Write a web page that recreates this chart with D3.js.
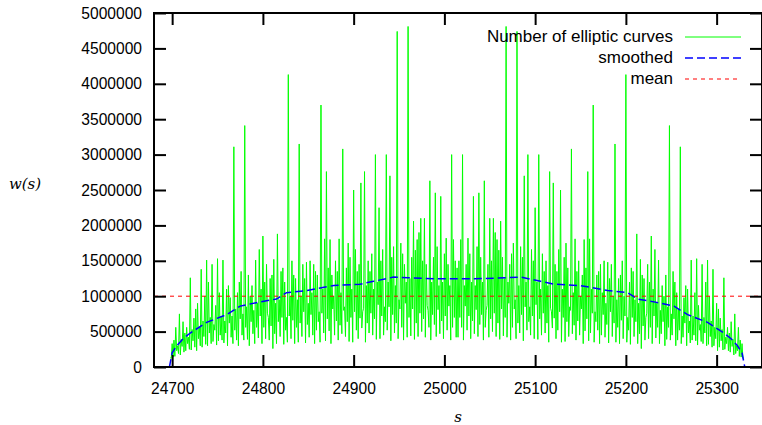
<!DOCTYPE html>
<html lang="en">

<head>
    <meta charset="UTF-8">
    <title>w(s)</title>
    <script src="https://d3js.org/d3.v7.min.js"></script>
    <style>
        body {
            margin: 0;
            background: #fff;
            overflow: hidden;
        }

        svg {
            display: block;
        }

        text {
            font-family: "Liberation Sans", Arial, sans-serif;
            fill: #000;
        }

        .math {
            font-family: "DejaVu Serif", serif;
            font-style: italic;
        }
    </style>
</head>

<body>
    <div id="chart"></div>
    <script>
        const width = 762, height = 425;

        // w(s) is symmetric about s = 25014, so only s = 24698 .. 25014 is listed (in thousands)
        const firstS = 24698;
        const halfCounts = [
            130, 120, 330, 140, 380, 150, 560, 230, 300, 190,
            750, 170, 390, 290, 640, 210, 480, 230, 560, 330,
            420, 250, 1260, 240, 530, 370, 690, 280, 820, 230,
            900, 400, 560, 300, 1380, 280, 650, 430, 1000, 320,
            1510, 300, 1200, 480, 700, 330, 1450, 360, 600, 520,
            870, 310, 1530, 370, 1050, 450, 720, 380, 1510, 340,
            650, 480, 1100, 300, 1150, 620, 980, 420, 720, 330,
            3110, 520, 820, 380, 1050, 300, 1200, 680, 1350, 450,
            750, 380, 3410, 560, 850, 390, 1300, 300, 1000, 640,
            1150, 470, 800, 330, 1510, 560, 900, 410, 1660, 720,
            1100, 330, 1850, 560, 1200, 400, 1450, 760, 700, 380,
            1250, 580, 1300, 260, 1520, 470, 900, 330, 1880, 640,
            950, 430, 1350, 700, 1400, 320, 1200, 520, 700, 350,
            4130, 720, 1000, 400, 1500, 660, 1300, 330, 1250, 560,
            950, 350, 3150, 620, 1000, 430, 1450, 780, 1250, 340,
            1480, 600, 900, 420, 1500, 740, 1050, 450, 1450, 330,
            1350, 520, 1300, 640, 780, 350, 3700, 760, 1100, 480,
            1810, 370, 2760, 680, 1400, 510, 1800, 330, 1300, 820,
            1000, 450, 1500, 650, 1350, 380, 1810, 590, 1050, 470,
            3080, 800, 850, 430, 1400, 640, 1750, 360, 1550, 700,
            1100, 350, 2500, 780, 1660, 520, 1350, 400, 1450, 690,
            2600, 550, 780, 830, 2760, 350, 1150, 620, 1500, 480,
            1350, 760, 1600, 450, 1100, 680, 3000, 390, 1200, 880,
            2250, 400, 1500, 720, 1660, 450, 850, 640, 3000, 520,
            1200, 850, 2700, 370, 1550, 740, 1700, 480, 1150, 620,
            4740, 400, 950, 820, 1750, 560, 1600, 380, 1450, 900,
            1200, 420, 4810, 700, 1250, 440, 1550, 820, 2060, 390,
            1650, 620, 1800, 430, 1900, 760, 2100, 500, 1500, 680,
            2100, 420, 1450, 870, 800, 560, 2630, 380, 1200, 740,
            1550, 600, 2460, 430, 1700, 810, 1150, 470, 2410, 650,
            1200, 400, 1600, 720, 1820, 520, 1450, 860, 1150, 380,
            3000, 560, 1800, 700, 1500, 420, 1400
        ];

        // smoothed curve (s, thousands)
        const smoothS = [24697, 24700, 24705, 24712, 24720, 24738, 24760, 24775, 24797, 24815, 24826, 24848,
            24878, 24907, 24922, 24944, 24960, 24995, 25014, 25033, 25068, 25084, 25106, 25121, 25150,
            25180, 25202, 25213, 25231, 25253, 25268, 25290, 25308, 25316, 25323, 25328, 25331];
        const smoothVals = [0, 200, 300, 400, 480, 630, 740, 860, 920, 960, 1050, 1080,
            1150, 1170, 1210, 1270, 1260, 1245, 1245, 1245, 1260, 1270, 1210, 1170, 1150,
            1080, 1050, 960, 920, 860, 740, 630, 480, 400, 300, 200, 0];

        const meanValue = 1000000;

        const xTicks = [24700, 24800, 24900, 25000, 25100, 25200, 25300];
        const yTicks = [0, 500000, 1000000, 1500000, 2000000, 2500000, 3000000, 3500000, 4000000, 4500000, 5000000];

        const legendLabels = ["Number of elliptic curves", "smoothed", "mean"];

        document.addEventListener("DOMContentLoaded", function () {
            // mirror the listed half onto s = 25015 .. 25330
            const counts = halfCounts.concat(halfCounts.slice(0, halfCounts.length - 1).reverse());
            const curve = counts.map((v, i) => ({ s: firstS + i, w: v * 1000 }));
            const smooth = smoothS.map((s, i) => ({ s: s, w: smoothVals[i] * 1000 }));

            const plotLeft = 154, plotRight = 762, plotTop = 13, plotBottom = 367;

            const x = d3.scaleLinear().domain([24680, 25350]).range([plotLeft, plotRight]);
            const y = d3.scaleLinear().domain([0, 5000000]).range([plotBottom, plotTop]);

            const svg = d3.select("#chart")
                .append("svg")
                .attr("width", width)
                .attr("height", height);

            const line = d3.line()
                .x(d => x(d.s))
                .y(d => y(d.w));

            svg.append("path")
                .datum(curve)
                .attr("d", line)
                .attr("fill", "none")
                .attr("stroke", "#00ff00")
                .attr("stroke-width", 1);

            svg.append("path")
                .datum(smooth)
                .attr("d", line)
                .attr("fill", "none")
                .attr("stroke", "#0000ff")
                .attr("stroke-width", 1.5)
                .attr("stroke-dasharray", "8,4");

            svg.append("line")
                .attr("x1", plotLeft)
                .attr("x2", plotRight)
                .attr("y1", y(meanValue))
                .attr("y2", y(meanValue))
                .attr("stroke", "#ff0000")
                .attr("stroke-width", 1)
                .attr("stroke-dasharray", "4,4");

            // axes: ticks point inward, mirrored on top and right
            const tickLen = 12;
            const tickFont = "Liberation Sans, Arial, sans-serif";
            svg.append("g")
                .attr("transform", `translate(0,${plotBottom})`)
                .call(d3.axisBottom(x).tickValues(xTicks).tickFormat(d3.format("d")).tickSizeInner(-tickLen).tickSizeOuter(0).tickPadding(16))
                .call(g => g.select(".domain").remove())
                .call(g => g.selectAll("line").attr("stroke-width", 2))
                .call(g => g.selectAll("text").attr("font-size", "15.6px").attr("font-family", tickFont));

            svg.append("g")
                .attr("transform", `translate(0,${plotTop})`)
                .call(d3.axisTop(x).tickValues(xTicks).tickFormat("").tickSizeInner(-tickLen).tickSizeOuter(0))
                .call(g => g.select(".domain").remove())
                .call(g => g.selectAll("line").attr("stroke-width", 2));

            svg.append("g")
                .attr("transform", `translate(${plotLeft},0)`)
                .call(d3.axisLeft(y).tickValues(yTicks).tickFormat(d3.format("d")).tickSizeInner(-tickLen).tickSizeOuter(0).tickPadding(12))
                .call(g => g.select(".domain").remove())
                .call(g => g.selectAll("line").attr("stroke-width", 2))
                .call(g => g.selectAll("text").attr("font-size", "15.6px").attr("font-family", tickFont));

            svg.append("g")
                .attr("transform", `translate(${plotRight},0)`)
                .call(d3.axisRight(y).tickValues(yTicks).tickFormat("").tickSizeInner(-tickLen).tickSizeOuter(0))
                .call(g => g.select(".domain").remove())
                .call(g => g.selectAll("line").attr("stroke-width", 2));

            svg.append("rect")
                .attr("x", plotLeft)
                .attr("y", plotTop)
                .attr("width", plotRight - plotLeft)
                .attr("height", plotBottom - plotTop)
                .attr("fill", "none")
                .attr("stroke", "#000")
                .attr("stroke-width", 2);

            // axis labels
            svg.append("text")
                .attr("class", "math")
                .attr("x", 25)
                .attr("y", 189)
                .attr("text-anchor", "middle")
                .attr("font-size", "15px")
                .text("w(s)");

            svg.append("text")
                .attr("class", "math")
                .attr("x", 458)
                .attr("y", 422)
                .attr("text-anchor", "middle")
                .attr("font-size", "15px")
                .text("s");

            // legend
            const legendStyles = [
                { color: "#00ff00", dash: null, width: 1 },
                { color: "#0000ff", dash: "8,4", width: 1.5 },
                { color: "#ff0000", dash: "4,4", width: 1 }
            ];
            const legend = svg.append("g");
            legendLabels.forEach((label, i) => {
                const ly = 37 + i * 21;
                legend.append("text")
                    .attr("x", 673)
                    .attr("y", ly + 5)
                    .attr("text-anchor", "end")
                    .attr("font-size", "17px")
                    .text(label);
                legend.append("line")
                    .attr("x1", 685)
                    .attr("x2", 741)
                    .attr("y1", ly)
                    .attr("y2", ly)
                    .attr("stroke", legendStyles[i].color)
                    .attr("stroke-width", legendStyles[i].width)
                    .attr("stroke-dasharray", legendStyles[i].dash);
            });
        });
    </script>
</body>

</html>
